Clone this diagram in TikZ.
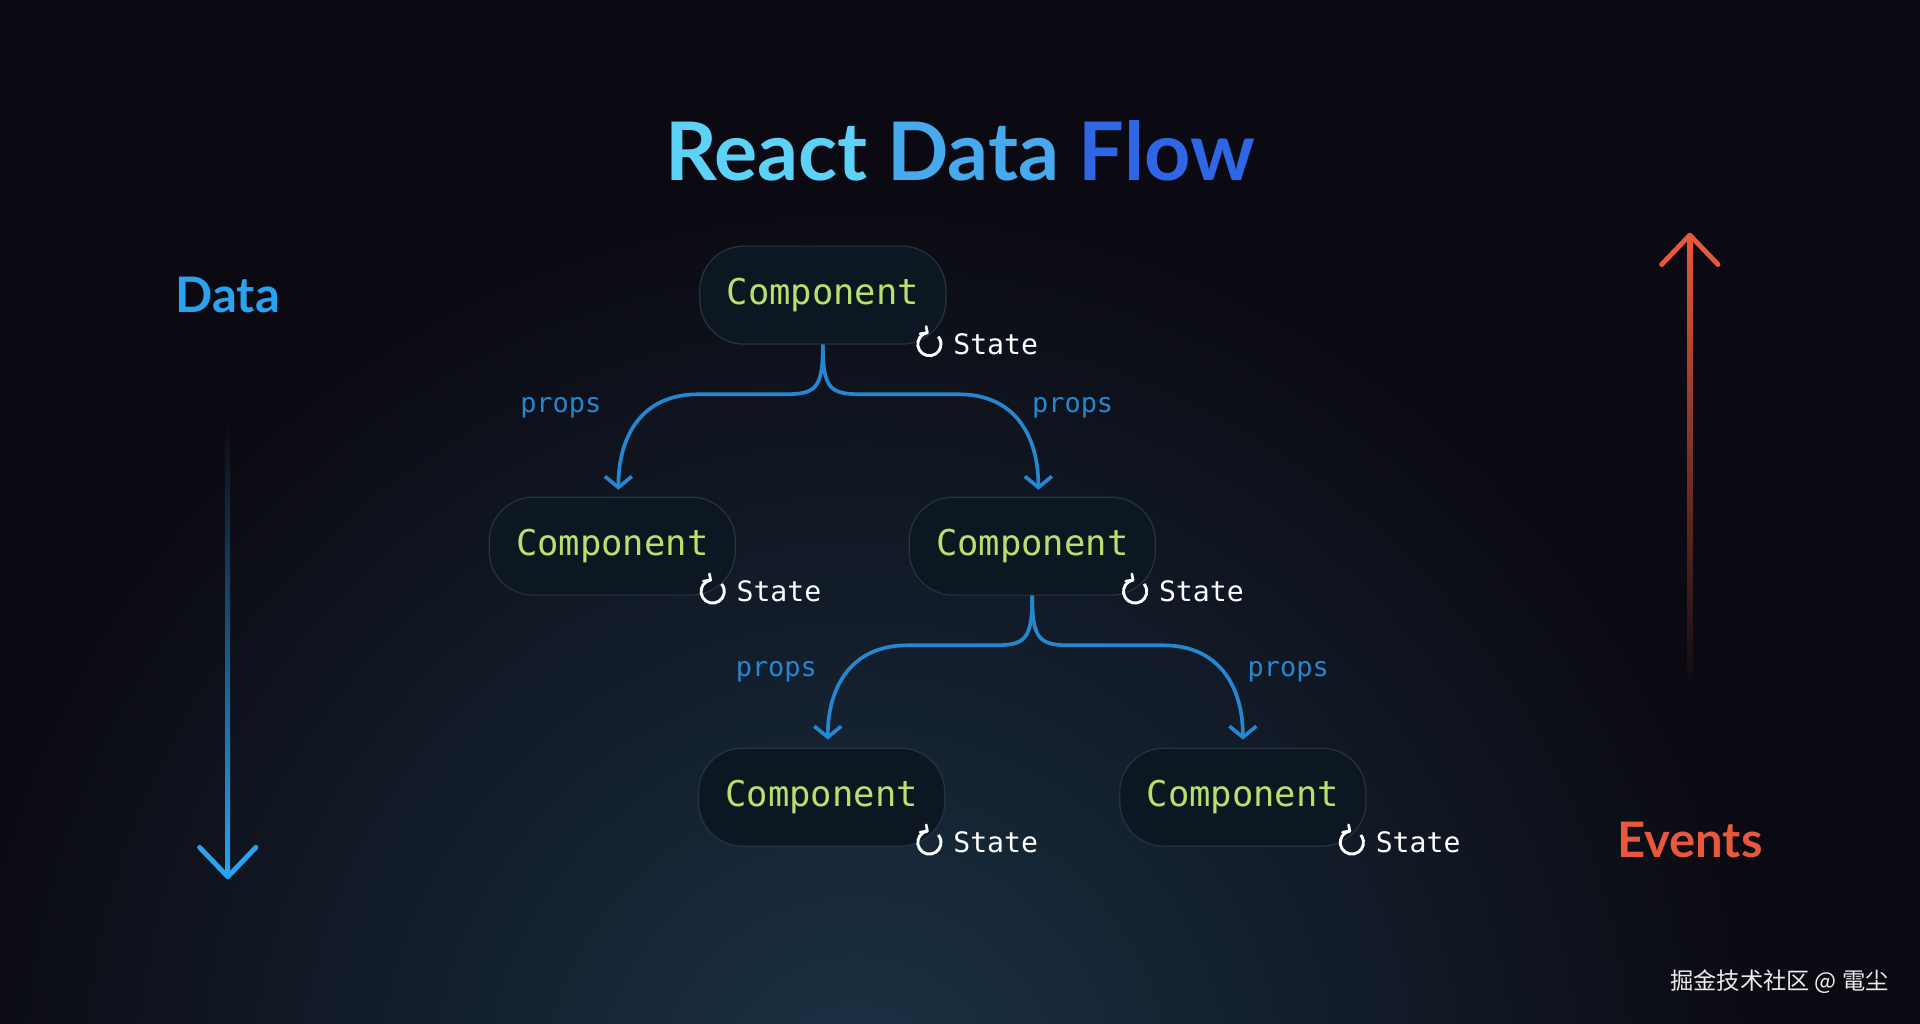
\documentclass[tikz,border=0pt]{standalone}
\usepackage{fontspec}
\setmainfont{Lato}
\setmonofont{DejaVu Sans Mono}
\newfontfamily\cjk{Noto Sans CJK SC}
\usetikzlibrary{arrows.meta}
\definecolor{bg}{HTML}{0B0A12}
\definecolor{glow}{HTML}{1B3245}
\definecolor{boxf}{HTML}{0C1722}
\definecolor{boxd}{HTML}{26343F}
\definecolor{green}{HTML}{B8E06C}
\definecolor{link}{HTML}{2587D0}
\definecolor{blue}{HTML}{29A3F0}
\definecolor{orange}{HTML}{E8583A}
\begin{document}
\begin{tikzpicture}[x=1pt,y=-1pt,
  comp/.style={draw=boxd,line width=1pt,fill=boxf,rounded corners=36pt,minimum width=201pt,minimum height=80pt,text=green,font=\ttfamily\fontsize{29}{30}\selectfont},
  st/.style={text=white,font=\ttfamily\fontsize{23}{24}\selectfont,anchor=west},
  pr/.style={text=link,font=\ttfamily\fontsize{22}{24}\selectfont},
  lk/.style={draw=link,line width=3pt,-{Straight Barb[length=9pt,width=22pt,line width=3pt]}}]
\useasboundingbox (0,0) rectangle (1568,836);
\fill[bg] (0,0) rectangle (1568,836);
\begin{scope}
\clip (0,0) rectangle (1568,836);
\shade[inner color=glow,outer color=bg] (700,900) circle (750);
\end{scope}
\node[font=\bfseries\fontsize{66}{70}\selectfont] (title) at (784,123) {\textcolor[HTML]{5CD3F6}{React} \textcolor[HTML]{47A9EE}{Data} \textcolor[HTML]{2E66E6}{Flow}};
\node[text=blue,font=\bfseries\fontsize{40}{44}\selectfont] (data) at (186,241) {Data};
\node[text=orange,font=\bfseries\fontsize{40}{44}\selectfont] (events) at (1380,686) {Events};
\node[text=white!85!gray,font=\cjk\fontsize{19}{20}\selectfont,anchor=east] (wm) at (1546,802) {掘金技术社区 @ 電尘};
% big arrows
\shade[top color=bg,bottom color=blue] (184,345) rectangle (188,716);
\coordinate (dtip) at (186,716);
\draw[blue,line width=4pt,line cap=round,line join=round] (163,692) -- (dtip) -- (209,692);
\shade[top color=orange,bottom color=bg] (1378,192) rectangle (1382,562);
\coordinate (etip) at (1380,192);
\draw[orange,line width=4pt,line cap=round,line join=round] (1357,216) -- (etip) -- (1403,216);
% components
\node[comp] (c1) at (672,241) {Component};
\node[comp] (c2) at (500,446) {Component};
\node[comp] (c3) at (843,446) {Component};
\node[comp] (c4) at (671,651) {Component};
\node[comp] (c5) at (1015,651) {Component};
\foreach \n/\x/\y in {s1/759/281,s2/582/483,s3/927/483,s4/759/688,s5/1104/688}{
  \draw[white,line width=2.4pt] (\x,\y) ++(-100:9.5) arc (-100:-400:9.5);
  \draw[white,line width=2.2pt,line cap=round,line join=round] (\x,\y) ++(-100:9.5) ++(-1,-5) -- ++(1,5) -- ++(-6,1);
  \node[st] (\n) at (\x+16,\y) {State};
}
% links
\coordinate (t1l) at (505,400); \coordinate (t1r) at (848,400);
\coordinate (t2l) at (676,604); \coordinate (t2r) at (1015,604);
\draw[lk] (c1.south) .. controls (672,318) and (666,322) .. (640,322) -- (570,322) .. controls (525,322) and (505,355) .. (t1l);
\draw[lk] (c1.south) .. controls (672,318) and (678,322) .. (704,322) -- (783,322) .. controls (828,322) and (848,355) .. (t1r);
\draw[lk] (c3.south) .. controls (843,523) and (837,527) .. (811,527) -- (741,527) .. controls (696,527) and (676,560) .. (t2l);
\draw[lk] (c3.south) .. controls (843,523) and (849,527) .. (875,527) -- (950,527) .. controls (995,527) and (1015,560) .. (t2r);
\node[pr] (p1) at (458,333) {props};
\node[pr] (p2) at (876,333) {props};
\node[pr] (p3) at (634,549) {props};
\node[pr] (p4) at (1052,549) {props};
\end{tikzpicture}
\end{document}
